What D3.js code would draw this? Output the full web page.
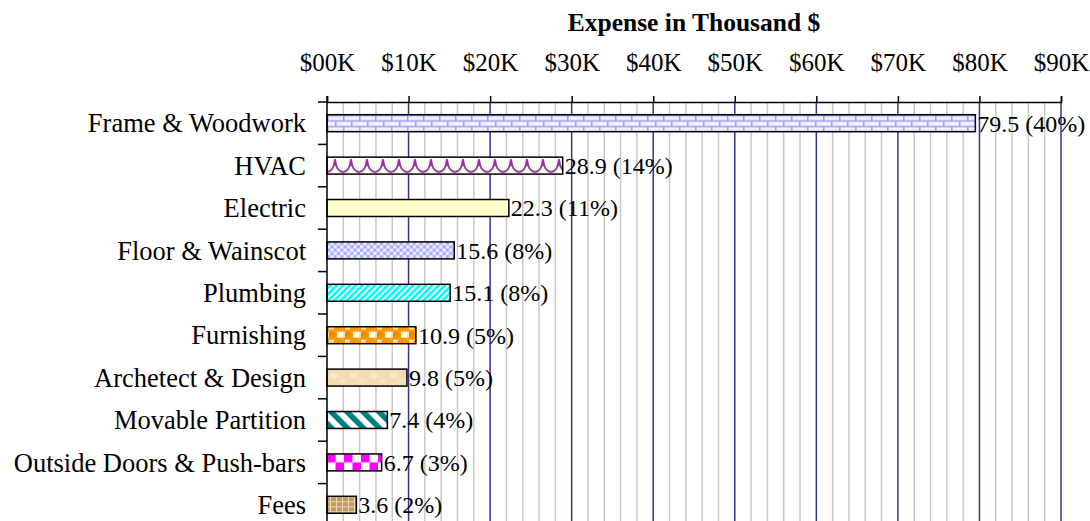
<!DOCTYPE html>
<meta charset="utf-8">
<style>
body { margin: 0; background: #fff; }
text { font-family: "Liberation Serif", "Times New Roman", serif; fill: #000; }
.title { font-weight: bold; }
</style>
<svg width="1090" height="521"></svg>
<script src="https://d3js.org/d3.v7.min.js"></script>
<script>

// data (thousand $)
var categories = ["Frame & Woodwork", "HVAC", "Electric", "Floor & Wainscot", "Plumbing",
                  "Furnishing", "Archetect & Design", "Movable Partition",
                  "Outside Doors & Push-bars", "Fees"];
var expenses = [79.5, 28.9, 22.3, 15.6, 15.1, 10.9, 9.8, 7.4, 6.7, 3.6];
var percents = [40, 14, 11, 8, 8, 5, 5, 4, 3, 2];
var tickValues = [0, 10, 20, 30, 40, 50, 60, 70, 80, 90];
var tickLabels = ["$00K", "$10K", "$20K", "$30K", "$40K", "$50K", "$60K", "$70K", "$80K", "$90K"];
var fills = ["url(#brick)", "url(#scallop)", "#ffffcc", "url(#checkSmall)", "url(#diagUp)",
             "url(#dots)", "url(#wheat)", "url(#diagDown)", "url(#checkBig)", "url(#fees)"];

var svg = d3.select("svg"),
    margin = {top: 102, left: 327, right: 29},
    width = 1090 - margin.left - margin.right,
    plotBottom = 526;

var x = d3.scaleLinear().domain([0, 90]).range([margin.left, margin.left + width]);
var y = d3.scaleBand().domain(categories).range([margin.top, plotBottom])
    .paddingInner(0.6).paddingOuter(0.3);

// ---- patterns
var defs = svg.append("defs");

function pat(id, w, h, transform) {
  var p = defs.append("pattern").attr("id", id)
      .attr("patternUnits", "userSpaceOnUse")
      .attr("width", w).attr("height", h);
  if (transform) p.attr("patternTransform", transform);
  return p;
}

// bricks
var b = pat("brick", 16, 11);
b.append("rect").attr("width", 16).attr("height", 11).attr("fill", "#f2f2ff");
b.append("path").attr("d", "M0,0.75H16M0,6.25H16M0.75,0V6M8.75,6V11")
    .attr("stroke", "#9e9eff").attr("stroke-width", 1.6).attr("fill", "none");

// scallops
var s = pat("scallop", 16, 17);
s.append("rect").attr("width", 16).attr("height", 17).attr("fill", "#fff");
s.append("path").attr("d", "M0,15 Q7,14 8,2 Q9,14 16,15 M8,6 L10,10")
    .attr("stroke", "#993399").attr("stroke-width", 2).attr("fill", "none");

// small checker
var c1 = pat("checkSmall", 6.6, 6.6);
c1.append("rect").attr("width", 6.6).attr("height", 6.6).attr("fill", "#ccffff");
c1.append("rect").attr("width", 3.3).attr("height", 3.3).attr("fill", "#cc99ff");
c1.append("rect").attr("x", 3.3).attr("y", 3.3).attr("width", 3.3).attr("height", 3.3).attr("fill", "#cc99ff");

// cyan with white diagonal stripes
var d1 = pat("diagUp", 4.5, 10, "rotate(45)");
d1.append("rect").attr("width", 4.5).attr("height", 10).attr("fill", "#00ffff");
d1.append("rect").attr("width", 1.8).attr("height", 10).attr("fill", "#fff");

// orange with white squares and dots
var o = pat("dots", 16, 17);
o.append("rect").attr("width", 16).attr("height", 17).attr("fill", "#ff9900");
o.append("rect").attr("x", 10).attr("y", 5).attr("width", 6).attr("height", 6).attr("fill", "#fff");
o.append("rect").attr("x", 2).attr("y", 0).attr("width", 5).attr("height", 3).attr("fill", "#ffe0b0");
o.append("rect").attr("x", 2).attr("y", 13).attr("width", 5).attr("height", 4).attr("fill", "#ffe0b0");
o.append("rect").attr("x", 0).attr("y", 5).attr("width", 2).attr("height", 6).attr("fill", "#ffe0b0");
o.append("circle").attr("cx", 5).attr("cy", 8).attr("r", 3.2).attr("fill", "#f08c00");

// wheat texture
var w = pat("wheat", 20, 17);
w.append("rect").attr("width", 20).attr("height", 17).attr("fill", "#f2dcb2");
w.append("rect").attr("x", 3).attr("y", 4).attr("width", 7).attr("height", 5).attr("fill", "#f7e8c8");
w.append("rect").attr("x", 12).attr("y", 10).attr("width", 6).attr("height", 4).attr("fill", "#f6e4c0");

// teal stripes
var d2 = pat("diagDown", 11.3, 10, "rotate(-45)");
d2.append("rect").attr("width", 11.3).attr("height", 10).attr("fill", "#fff");
d2.append("rect").attr("width", 5.5).attr("height", 10).attr("fill", "#008080");

// magenta checker
var c2 = pat("checkBig", 17, 17);
c2.append("rect").attr("width", 17).attr("height", 17).attr("fill", "#fff");
c2.append("rect").attr("width", 8.5).attr("height", 8.5).attr("fill", "#ff00ff");
c2.append("rect").attr("x", 8.5).attr("y", 8.5).attr("width", 8.5).attr("height", 8.5).attr("fill", "#ff00ff");

// fees: brown with light grid
var f = pat("fees", 6, 5);
f.append("rect").attr("width", 6).attr("height", 5).attr("fill", "#c09a60");
f.append("path").attr("d", "M0,0.5H6M3.5,0V5").attr("stroke", "#ead8b0").attr("stroke-width", 1);

// ---- grid
var minor = d3.range(2, 91, 2).filter(function(d) { return d % 10 !== 0; });
svg.append("g").selectAll("line").data(minor).enter().append("line")
    .attr("x1", function(d) { return x(d); }).attr("x2", function(d) { return x(d); })
    .attr("y1", margin.top).attr("y2", plotBottom)
    .attr("stroke", "#c8c8c8").attr("stroke-width", 1.5);

svg.append("g").selectAll("line").data(tickValues.slice(1)).enter().append("line")
    .attr("x1", function(d) { return x(d); }).attr("x2", function(d) { return x(d); })
    .attr("y1", margin.top).attr("y2", plotBottom)
    .attr("stroke", "#33339a").attr("stroke-width", 1.5);

// ---- bars
var bars = svg.append("g").selectAll("g").data(categories).enter().append("g")
    .attr("transform", function(d) { return "translate(" + x(0) + "," + y(d) + ")"; });

bars.append("rect")
    .attr("width", function(d, i) { return x(expenses[i]) - x(0); })
    .attr("height", y.bandwidth())
    .attr("fill", function(d, i) { return fills[i]; })
    .attr("stroke", "#000").attr("stroke-width", 1.5);

bars.append("text")
    .attr("x", function(d, i) { return x(expenses[i]) - x(0) + 2; })
    .attr("y", y.bandwidth() / 2)
    .attr("dy", "0.35em")
    .style("font-size", "24px")
    .text(function(d, i) { return expenses[i].toFixed(1) + " (" + percents[i] + "%)"; });

// ---- axes
var xAxis = d3.axisTop(x).tickValues(tickValues).tickSize(6)
    .tickFormat(function(d, i) { return tickLabels[i]; });

var gx = svg.append("g")
    .attr("transform", "translate(0," + margin.top + ")")
    .call(xAxis);
gx.select(".domain").attr("stroke", "#000").attr("stroke-width", 1.5);
gx.selectAll(".tick line").attr("stroke", "#000").attr("stroke-width", 1.5);
gx.selectAll(".tick text").attr("y", -31).attr("dy", 0)
    .style("font-size", "25px").style("font-family", "Liberation Serif");

var boundaries = categories.map(function(d) { return y(d) + y.bandwidth() / 2 - y.step() / 2; });
var gy = svg.append("g");
gy.append("line").attr("x1", x(0)).attr("x2", x(0)).attr("y1", margin.top - 6).attr("y2", plotBottom)
    .attr("stroke", "#000").attr("stroke-width", 1.5);
gy.selectAll(".ytick").data(boundaries).enter().append("line")
    .attr("class", "ytick")
    .attr("x1", x(0) - 9).attr("x2", x(0))
    .attr("y1", function(d) { return d; }).attr("y2", function(d) { return d; })
    .attr("stroke", "#000").attr("stroke-width", 1.5);

gy.selectAll(".ylabel").data(categories).enter().append("text")
    .attr("class", "ylabel")
    .attr("x", 306)
    .attr("y", function(d) { return y(d) + y.bandwidth() / 2; })
    .attr("dy", "0.35em")
    .attr("text-anchor", "end")
    .style("font-size", "26.5px")
    .text(function(d) { return d; });

svg.append("text")
    .attr("class", "title")
    .attr("x", (x(0) + x(90)) / 2)
    .attr("y", 31)
    .attr("text-anchor", "middle")
    .style("font-size", "25.5px")
    .text("Expense in Thousand $");

</script>
